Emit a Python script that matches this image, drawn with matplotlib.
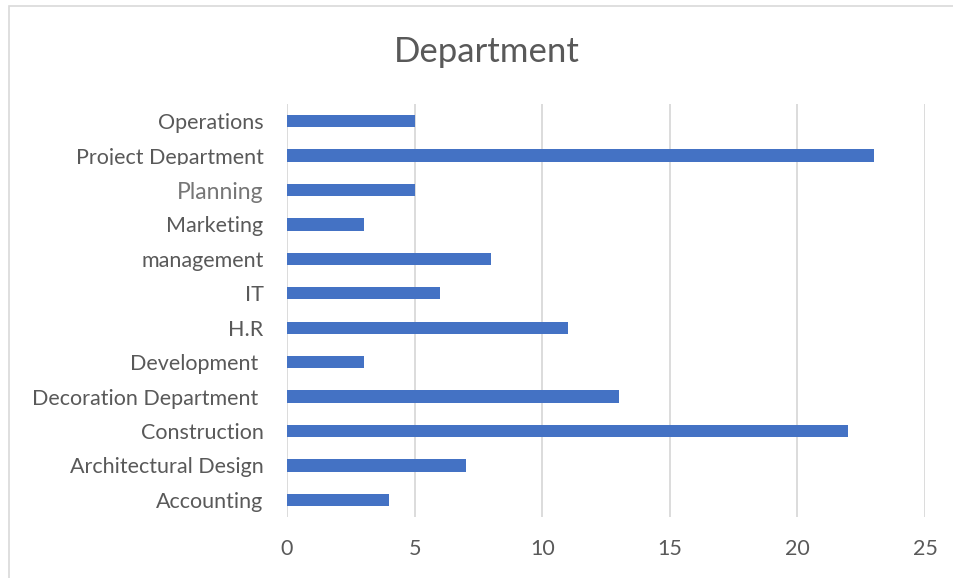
import matplotlib
matplotlib.use("Agg")
import matplotlib.pyplot as plt
from matplotlib.patches import Rectangle
from matplotlib.transforms import Bbox, TransformedBbox

categories = ["Accounting", "Architectural Design", "Construction", "Decoration Department ",
              "Development ", "H.R", "IT", "management", "Marketing", "Planning",
              "Project Department", "Operations"]
counts = [4, 7, 22, 13, 3, 11, 6, 8, 3, 5, 23, 5]
x_ticks = [0, 5, 10, 15, 20, 25]

plt.rcParams['font.family'] = ['Lato', 'DejaVu Sans']
text_color = "#595959"
bar_color = "#4472c4"
grid_color = "#d9d9d9"

W, H = 954, 578
fig = plt.figure(figsize=(W / 100, H / 100), dpi=100)
fig.patch.set_facecolor("white")

# chart frame
fig.add_artist(Rectangle((9 / W, -0.05), 1.2, 1 - 6 / H + 0.05, transform=fig.transFigure,
                         fill=False, edgecolor=grid_color, linewidth=1.2))

left, right = 287 / W, 925 / W
top, bottom = 1 - 104 / H, 1 - 517 / H
ax = fig.add_axes([left, bottom, right - left, top - bottom])

y = list(range(len(categories)))
ax.barh(y, counts, height=0.36, color=bar_color, zorder=3)
ax.set_xlim(0, 25)
ax.set_ylim(-0.5, len(categories) - 0.5)
ax.set_xticks(x_ticks)
ax.set_xticklabels([str(t) for t in x_ticks])
ax.set_yticks(y)
ax.set_yticklabels(categories)
ax.xaxis.grid(True, color=grid_color, linewidth=1.3, zorder=0)
ax.set_axisbelow(True)
for s in ax.spines.values():
    s.set_visible(False)
ax.tick_params(axis='both', length=0, colors=text_color, labelsize=15.5)
ax.tick_params(axis='x', pad=16)
ax.tick_params(axis='y', pad=17)
for lbl in ax.get_yticklabels():
    lbl.set_color(text_color)
    if lbl.get_text() == "Planning":
        lbl.set_fontsize(16.5)
        lbl.set_color("#767676")
for lbl in ax.get_xticklabels():
    lbl.set_color(text_color)

fig.text(487 / W, 1 - 52 / H, "Department", ha="center", va="center",
         fontsize=25, color=text_color)

# the long label is cut off along its lower edge
for lbl in ax.get_yticklabels():
    if lbl.get_text() == "Project Department":
        lbl.set_clip_on(True)
        lbl.set_clip_box(TransformedBbox(Bbox([[0, 1 - 165 / H], [1, 1]]), fig.transFigure))

fig.savefig("out.png", dpi=100, facecolor="white")
